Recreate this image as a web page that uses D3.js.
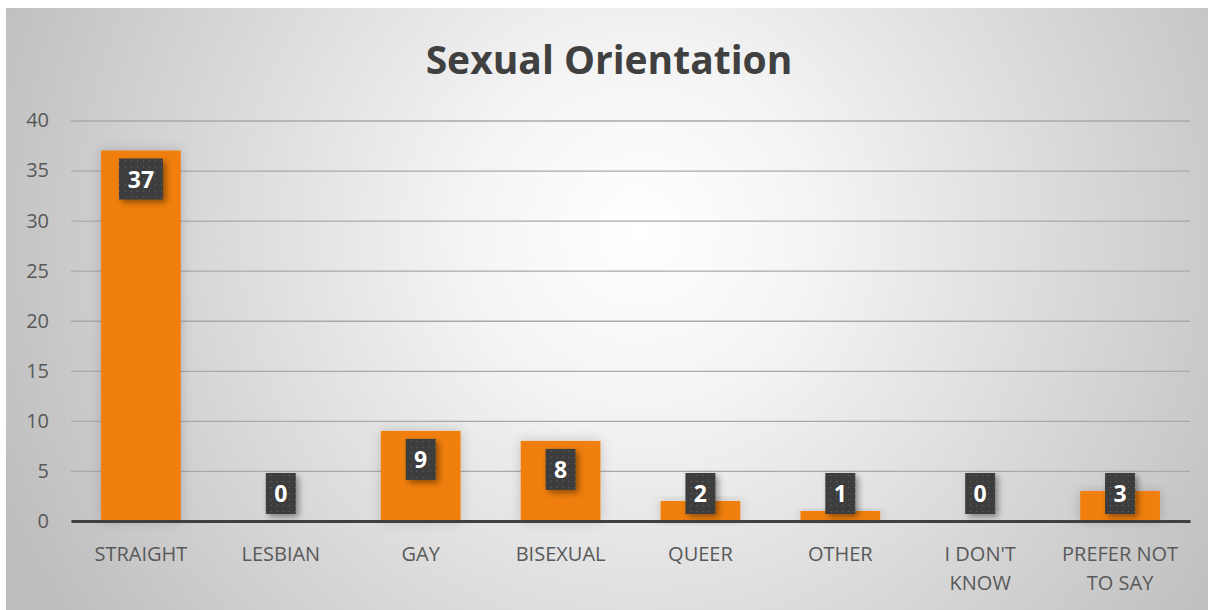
<!DOCTYPE html>
<html>
<head>
<meta charset="utf-8">
<script src="https://cdn.jsdelivr.net/npm/d3@7"></script>
<style>
  body { margin: 0; background: #fff; }
  #app { width: 1208px; height: 610px; }
</style>
</head>
<body>
<div id="app"></div>
<script>
const categories = ["STRAIGHT", "LESBIAN", "GAY", "BISEXUAL", "QUEER", "OTHER", "I DON'T KNOW", "PREFER NOT TO SAY"];
const catLines = [["STRAIGHT"], ["LESBIAN"], ["GAY"], ["BISEXUAL"], ["QUEER"], ["OTHER"], ["I DON'T", "KNOW"], ["PREFER NOT", "TO SAY"]];
const counts = [37, 0, 9, 8, 2, 1, 0, 3];
const yTicks = [0, 5, 10, 15, 20, 25, 30, 35, 40];
const title = "Sexual Orientation";

const w = 1208, h = 610;
const plotLeft = 71, plotRight = 1190, plotTop = 120.5, plotBottom = 521;

const svg = d3.select("#app").append("svg")
  .attr("width", w)
  .attr("height", h)
  .style("font-family", "'Open Sans', sans-serif");

const defs = svg.append("defs");
const grad = defs.append("radialGradient")
  .attr("id", "bg")
  .attr("gradientUnits", "userSpaceOnUse")
  .attr("cx", 640).attr("cy", 230).attr("r", 700);
grad.append("stop").attr("offset", "0").attr("stop-color", "#ffffff");
grad.append("stop").attr("offset", "0.25").attr("stop-color", "#f4f4f4");
grad.append("stop").attr("offset", "0.85").attr("stop-color", "#c8c8c8");
grad.append("stop").attr("offset", "1").attr("stop-color", "#bdbdbd");

// dark dotted fill for the value labels
const pat = defs.append("pattern")
  .attr("id", "dots")
  .attr("patternUnits", "userSpaceOnUse")
  .attr("width", 6).attr("height", 6);
pat.append("rect").attr("width", 6).attr("height", 6).attr("fill", "#3d3d3d");
pat.append("rect").attr("x", 2).attr("y", 2).attr("width", 1).attr("height", 1).attr("fill", "#6a6a6a");

const sh = defs.append("filter").attr("id", "shadow")
  .attr("x", "-30%").attr("y", "-30%").attr("width", "170%").attr("height", "170%");
sh.append("feDropShadow").attr("dx", 3).attr("dy", 3).attr("stdDeviation", 3)
  .attr("flood-color", "#000").attr("flood-opacity", 0.4);

const bsh = defs.append("filter").attr("id", "barShadow")
  .attr("x", "-20%").attr("y", "-20%").attr("width", "140%").attr("height", "140%");
bsh.append("feDropShadow").attr("dx", 0).attr("dy", 0).attr("stdDeviation", 6)
  .attr("flood-color", "#000").attr("flood-opacity", 0.18);

svg.append("rect")
  .attr("x", 6).attr("y", 8)
  .attr("width", w - 6).attr("height", h - 8)
  .attr("fill", "url(#bg)");

svg.append("text")
  .attr("x", 609)
  .attr("y", 74)
  .attr("text-anchor", "middle")
  .style("font-size", "39px")
  .style("font-weight", "bold")
  .attr("fill", "#404040")
  .text(title);

const xScale = d3.scaleBand()
  .domain(categories)
  .range([plotLeft, plotRight])
  .paddingInner(0.43)
  .paddingOuter(0.215);

const yScale = d3.scaleLinear()
  .domain([0, 40])
  .range([plotBottom, plotTop]);

const yAxis = d3.axisLeft(yScale)
  .tickValues(yTicks)
  .tickSize(-(plotRight - plotLeft))
  .tickPadding(22);

const gy = svg.append("g")
  .attr("transform", "translate(" + plotLeft + ",0)")
  .call(yAxis);
gy.select(".domain").remove();
gy.selectAll(".tick line").attr("stroke", "#a9a9a9").attr("stroke-width", 1.3);
gy.selectAll(".tick text")
  .attr("fill", "#595959")
  .style("font-size", "20px")
  .style("font-family", "'Open Sans', sans-serif");

svg.selectAll(".bar")
  .data(counts)
  .enter()
  .append("rect")
  .attr("class", "bar")
  .attr("x", (d, i) => xScale(categories[i]))
  .attr("y", d => yScale(d))
  .attr("width", xScale.bandwidth())
  .attr("height", d => plotBottom - yScale(d))
  .attr("fill", "#f07f09")
  .attr("filter", "url(#barShadow)");

const xAxis = d3.axisBottom(xScale).tickSize(0).tickFormat("");
const gx = svg.append("g")
  .attr("transform", "translate(0," + plotBottom + ")")
  .call(xAxis);
gx.select(".domain").attr("stroke", "#404040").attr("stroke-width", 3);

const lab = svg.selectAll(".cat")
  .data(categories)
  .enter()
  .append("text")
  .attr("class", "cat")
  .attr("x", d => xScale(d) + xScale.bandwidth() / 2)
  .attr("y", 561)
  .attr("text-anchor", "middle")
  .attr("fill", "#595959")
  .style("font-size", "20px");
lab.each(function(d, i) {
  d3.select(this).selectAll("tspan")
    .data(catLines[i])
    .enter()
    .append("tspan")
    .attr("x", xScale(d) + xScale.bandwidth() / 2)
    .attr("dy", (t, j) => j === 0 ? 0 : 28.5)
    .text(t => t);
});

const boxH = 41;
const labels = svg.selectAll(".lbl")
  .data(counts)
  .enter()
  .append("g")
  .attr("class", "lbl")
  .attr("transform", (d, i) => {
    const cx = xScale(categories[i]) + xScale.bandwidth() / 2;
    const y0 = Math.min(yScale(d) + 8, plotBottom - 7 - boxH);
    return "translate(" + cx + "," + y0 + ")";
  });
labels.append("rect")
  .attr("x", d => -(String(d).length > 1 ? 22 : 15))
  .attr("width", d => String(d).length > 1 ? 44 : 30)
  .attr("height", boxH)
  .attr("fill", "url(#dots)")
  .attr("filter", "url(#shadow)");
labels.append("text")
  .attr("y", 29)
  .attr("text-anchor", "middle")
  .attr("fill", "#ffffff")
  .style("font-size", "23px")
  .style("font-weight", "bold")
  .text(d => d);
</script>
</body>
</html>
